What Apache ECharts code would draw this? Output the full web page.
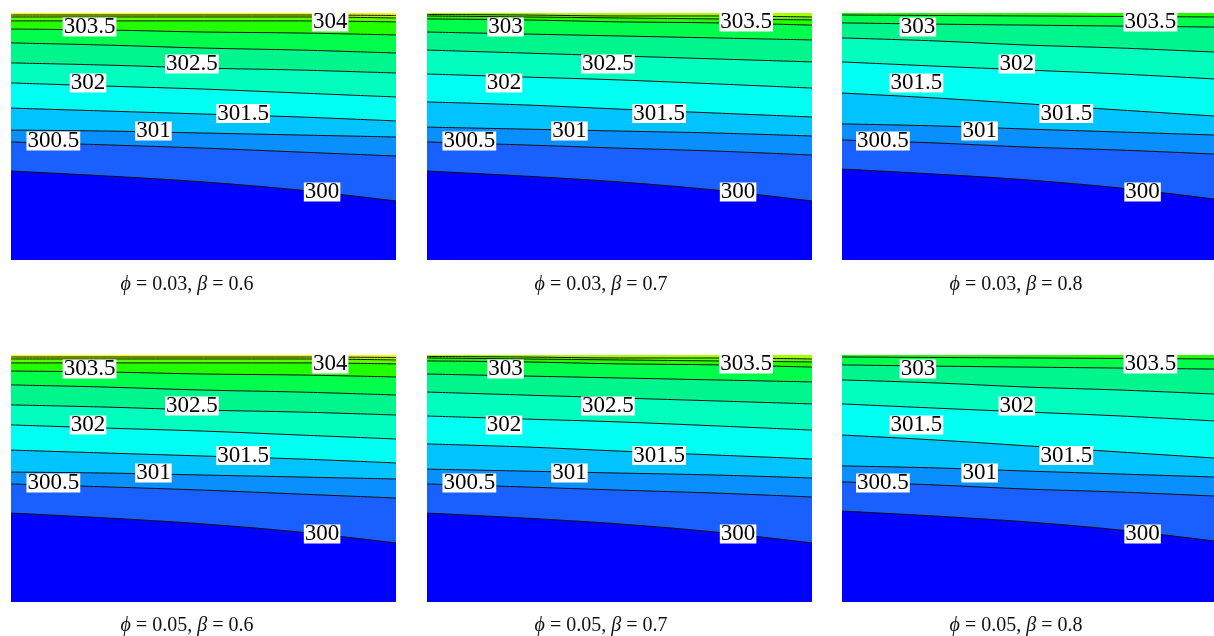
<!DOCTYPE html>
<html>
<head>
<meta charset="utf-8">
<script src="https://cdn.jsdelivr.net/npm/echarts@6/dist/echarts.min.js"></script>
<style>
html,body{margin:0;padding:0;background:#fff;}
#main{width:1214px;height:636px;}
</style>
</head>
<body>
<div id="main"></div>
<script>
// x positions (fraction of domain width) at which contour depths are read
var xs = [0, 0.25, 0.5, 0.75, 1];

// contour levels (K) per column (beta = 0.6, 0.7, 0.8)
var levelsA = [300, 300.5, 301, 301.5, 302, 302.5, 303, 303.5, 304, 304.5, 305];
var levelsB = [300, 300.5, 301, 301.5, 302, 302.5, 303, 303.5, 304, 304.5];
var levelsC = [300, 300.5, 301, 301.5, 302, 302.5, 303, 303.5];

// normalized depth (0 = top, 1 = bottom) of each contour at xs
var depthA = [
  [0.640, 0.660, 0.684, 0.717, 0.761],
  [0.522, 0.534, 0.547, 0.563, 0.579],
  [0.474, 0.478, 0.486, 0.494, 0.502],
  [0.385, 0.397, 0.409, 0.421, 0.437],
  [0.283, 0.296, 0.308, 0.324, 0.340],
  [0.202, 0.211, 0.223, 0.231, 0.243],
  [0.121, 0.130, 0.142, 0.150, 0.162],
  [0.065, 0.069, 0.077, 0.081, 0.089],
  [0.032, 0.032, 0.032, 0.032, 0.036],
  [0.016, 0.016, 0.016, 0.016, 0.020],
  [0.008, 0.008, 0.008, 0.008, 0.010]
];
var depthB = [
  [0.640, 0.660, 0.684, 0.717, 0.761],
  [0.522, 0.534, 0.547, 0.559, 0.575],
  [0.462, 0.470, 0.478, 0.486, 0.498],
  [0.360, 0.372, 0.389, 0.405, 0.421],
  [0.247, 0.259, 0.271, 0.287, 0.304],
  [0.150, 0.162, 0.174, 0.186, 0.198],
  [0.077, 0.085, 0.093, 0.101, 0.109],
  [0.024, 0.028, 0.036, 0.040, 0.049],
  [0.012, 0.016, 0.020, 0.024, 0.028],
  [0.006, 0.008, 0.012, 0.012, 0.016]
];
var depthC = [
  [0.632, 0.652, 0.676, 0.709, 0.753],
  [0.514, 0.526, 0.543, 0.555, 0.571],
  [0.449, 0.457, 0.470, 0.482, 0.494],
  [0.324, 0.344, 0.368, 0.393, 0.417],
  [0.198, 0.215, 0.231, 0.247, 0.267],
  [0.101, 0.113, 0.130, 0.142, 0.158],
  [0.040, 0.045, 0.049, 0.053, 0.057],
  [0.008, 0.010, 0.012, 0.014, 0.016]
];

// colour of the band just above each level
var bandColors = {
  '300': '#1a5fff', '300.5': '#0a8fff', '301': '#00c3ff', '301.5': '#00fff2',
  '302': '#00ffbf', '302.5': '#00f58c', '303': '#00ff4d', '303.5': '#22ff00',
  '304': '#5cff00', '304.5': '#a8ff00', '305': '#f0ff00'
};
var coldColor = '#0000ff';

// contour label texts per column
var labelsA = ['303.5', '304', '302.5', '302', '301.5', '301', '300.5', '300'];
var labelsB = ['303', '303.5', '302.5', '302', '301.5', '301', '300.5', '300'];
var labelsC = ['303', '303.5', '302', '301.5', '301.5', '301', '300.5', '300'];

// captions
var phiValues = ['0.03', '0.05'];
var betaValues = ['0.6', '0.7', '0.8'];

// ---- layout (not data) ----
var labelPos = [[0.204, 0.057], [0.829, 0.036], [0.470, 0.206], [0.200, 0.283],
                [0.603, 0.407], [0.370, 0.478], [0.110, 0.518], [0.808, 0.725]];
var panelLeft = [11, 427, 842];
var panelTop = [13, 355];
var panelW = 385, panelH = 247;
var captionX = [187, 601, 1016];
var captionY = [285, 626];

var columns = [
  {levels: levelsA, depth: depthA, labels: labelsA},
  {levels: levelsB, depth: depthB, labels: labelsB},
  {levels: levelsC, depth: depthC, labels: labelsC}
];

var grids = [], xAxes = [], yAxes = [], series = [], titles = [];
var idx = 0;
for (var r = 0; r < 2; r++) {
  for (var c = 0; c < 3; c++) {
    grids.push({left: panelLeft[c], top: panelTop[r], width: panelW, height: panelH,
      show: true, backgroundColor: coldColor, borderWidth: 0});
    xAxes.push({type: 'value', gridIndex: idx, min: 0, max: 1, show: false});
    yAxes.push({type: 'value', gridIndex: idx, min: 0, max: 1, inverse: true, show: false});
    var col = columns[c];
    col.levels.forEach(function (lv, k) {
      var d = col.depth[k];
      series.push({
        type: 'line', xAxisIndex: idx, yAxisIndex: idx,
        data: xs.map(function (x, j) { return [x, d[j]]; }),
        smooth: 0.35, symbol: 'none', silent: true,
        lineStyle: {color: '#111', width: 1},
        areaStyle: {color: bandColors[String(lv)], opacity: 1, origin: 'start'},
        z: 2
      });
    });
    series.push({
      type: 'scatter', xAxisIndex: idx, yAxisIndex: idx, symbolSize: 1,
      itemStyle: {color: 'rgba(0,0,0,0)', opacity: 1}, silent: true, z: 10,
      data: col.labels.map(function (t, k) { return {name: t, value: labelPos[k]}; }),
      label: {show: true, position: 'inside', formatter: '{b}', color: '#000', opacity: 1,
        backgroundColor: '#fff', fontFamily: 'Liberation Serif', fontSize: 23,
        lineHeight: 19, padding: [0, 1, 0, 1]},
      labelLayout: {hideOverlap: false}
    });
    titles.push({
      text: '{i|ϕ} = ' + phiValues[r] + ', {i|β} = ' + betaValues[c],
      left: captionX[c], top: captionY[r], textAlign: 'center', textVerticalAlign: 'middle',
      padding: 0,
      textStyle: {fontFamily: 'Liberation Serif', fontSize: 20, fontWeight: 'normal', color: '#111',
        rich: {i: {fontFamily: 'Liberation Serif', fontSize: 20, fontStyle: 'italic', color: '#111'}}}
    });
    idx++;
  }
}

var chart = echarts.init(document.getElementById('main'));
chart.setOption({
  animation: false,
  backgroundColor: '#fff',
  title: titles,
  grid: grids,
  xAxis: xAxes,
  yAxis: yAxes,
  series: series
});
</script>
</body>
</html>
